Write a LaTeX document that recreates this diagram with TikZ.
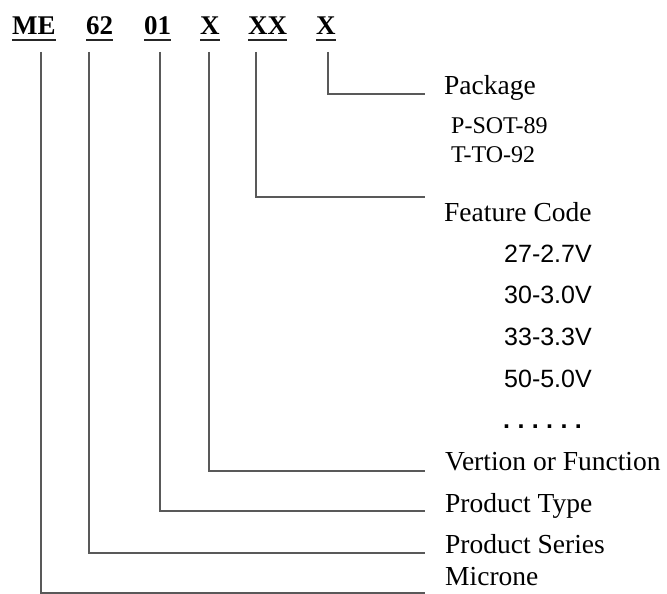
\documentclass[tikz,border=0pt]{standalone}
\usepackage{fontspec}
\setmainfont{Liberation Serif}
\newfontfamily\digitfont{Liberation Sans}
\tikzset{
  hdr/.style={inner sep=0pt, anchor=base west, font=\fontsize{27}{27}\selectfont\bfseries},
  lbl/.style={inner sep=0pt, anchor=base west, font=\fontsize{27.5}{28}\selectfont},
  sublbl/.style={inner sep=0pt, anchor=base west, font=\fontsize{24}{24}\selectfont},
  code/.style={inner sep=0pt, anchor=base west, font=\digitfont\fontsize{25}{25}\selectfont},
  uline/.style={line width=1.8pt, black!85},
  conn/.style={line width=1.8pt, black!65},
}
\begin{document}
\begin{tikzpicture}[x=1pt,y=-1pt]
\useasboundingbox[fill=white] (0,0) rectangle (667,594);
% header
\node[hdr] (me) at (12,35) {ME};
\node[hdr] (sixtwo) at (86,35) {62};
\node[hdr] (zeroone) at (144,35) {01};
\node[hdr] (xa) at (200,35) {X};
\node[hdr] (xx) at (248,35) {XX};
\node[hdr] (xb) at (316,35) {X};
\foreach \n in {me,sixtwo,zeroone,xa,xx,xb}
  \draw[uline] ([yshift=-5pt]\n.base west) -- ([yshift=-5pt]\n.base east);
% labels
\node[lbl] (package) at (444,95) {Package};
\node[sublbl] (sot) at (451,133) {P-SOT-89};
\node[sublbl] (to) at (451,162) {T-TO-92};
\node[lbl] (feature) at (444,221) {Feature Code};
\node[code] (c27) at (504,262) {27-2.7V};
\node[code] (c30) at (504,303) {30-3.0V};
\node[code] (c33) at (504,345) {33-3.3V};
\node[code] (c50) at (504,387) {50-5.0V};
\node[code,font=\digitfont\fontsize{25}{25}\selectfont\bfseries] (dots) at (503,428)
  {.\hspace{7.4pt}.\hspace{7.4pt}.\hspace{7.4pt}.\hspace{7.4pt}.\hspace{7.4pt}.};
\node[lbl] (vertion) at (445,470) {Vertion or Function};
\node[lbl] (ptype) at (445,512) {Product Type};
\node[lbl] (pseries) at (445,553) {Product Series};
\node[lbl] (microne) at (445,585) {Microne};
% connector coordinates
\coordinate (s1) at (41,52);  \coordinate (e1) at (425,593);
\coordinate (s2) at (89,52);  \coordinate (e2) at (425,553);
\coordinate (s3) at (160,52); \coordinate (e3) at (425,511);
\coordinate (s4) at (209,52); \coordinate (e4) at (425,471);
\coordinate (s5) at (256,52); \coordinate (e5) at (425,197);
\coordinate (s6) at (328,52); \coordinate (e6) at (425,94);
\draw[conn] (s1) |- (e1);
\draw[conn] (s2) |- (e2);
\draw[conn] (s3) |- (e3);
\draw[conn] (s4) |- (e4);
\draw[conn] (s5) |- (e5);
\draw[conn] (s6) |- (e6);
\end{tikzpicture}
\end{document}
